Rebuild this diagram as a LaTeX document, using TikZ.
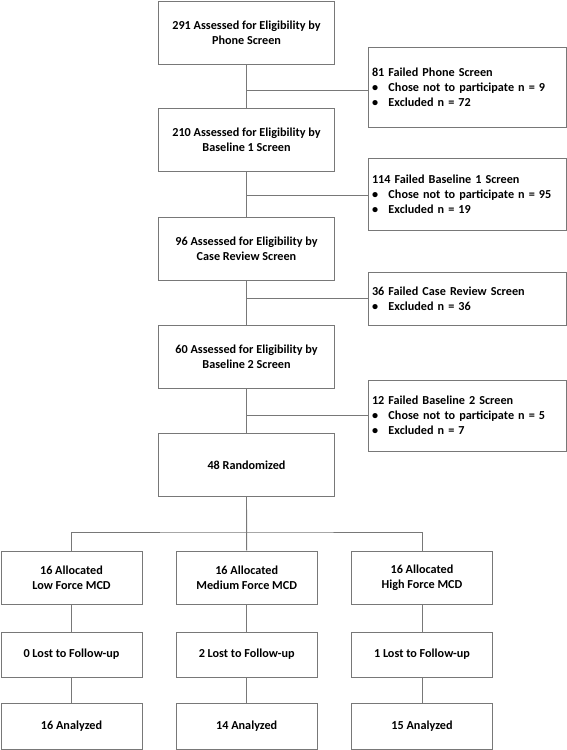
\documentclass[tikz,border=0pt]{standalone}
\usepackage{fontspec}
\setmainfont{Carlito}
\usepackage{tikz}
\usetikzlibrary{calc,positioning}
\definecolor{linegray}{RGB}{120,120,120}
\tikzset{
  mainbox/.style={draw=linegray, line width=0.9pt, fill=white, minimum width=176pt, minimum height=63pt, align=center, inner sep=2pt},
  sidebox/.style={draw=linegray, line width=0.9pt, fill=white, text width=190pt, inner xsep=4pt, align=left},
  armbox/.style={draw=linegray, line width=0.9pt, fill=white, minimum width=141pt, align=center, inner sep=2pt},
  conn/.style={draw=linegray, line width=0.9pt}
}
\newcommand{\bul}{\makebox[16.5pt][l]{\textbullet}}
\begin{document}
\begin{tikzpicture}[x=1pt,y=-1pt,font=\fontsize{12.2}{15}\selectfont\bfseries]
\useasboundingbox (0,0) rectangle (567,750);
% screening column
\node[mainbox] (b1) at (246.5,32.5) {291 Assessed for Eligibility by\\Phone Screen};
\node[mainbox] (b2) at (246.5,140) {210 Assessed for Eligibility by\\Baseline 1 Screen};
\node[mainbox] (b3) at (246.5,248.5) {96 Assessed for Eligibility by\\Case Review Screen};
\node[mainbox] (b4) at (246.5,356.5) {60 Assessed for Eligibility by\\Baseline 2 Screen};
\node[mainbox] (b5) at (246.5,465) {48 Randomized};
% exclusions
\node[sidebox, minimum height=80pt] (s1) at (467,87) {81 Failed Phone Screen\\
  \bul Chose not to participate n = 9\\
  \bul Excluded n = 72};
\node[sidebox, minimum height=72pt] (s2) at (467,194) {114 Failed Baseline 1 Screen\\
  \bul Chose not to participate n = 95\\
  \bul Excluded n = 19};
\node[sidebox, minimum height=53pt] (s3) at (467,298.5) {36 Failed Case Review Screen\\
  \bul Excluded n = 36};
\node[sidebox, minimum height=71pt] (s4) at (467,415.5) {12 Failed Baseline 2 Screen\\
  \bul Chose not to participate n = 5\\
  \bul Excluded n = 7};
% arms
\node[armbox, minimum height=53pt] (a1) at (71.5,577.5) {16 Allocated\\Low Force MCD};
\node[armbox, minimum height=53pt] (a2) at (246.7,577.5) {16 Allocated\\Medium Force MCD};
\node[armbox, minimum height=53pt] (a3) at (422,577.5) {16 Allocated\\High Force MCD};
\node[armbox, minimum height=45pt] (l1) at (71.5,654.5) {0 Lost to Follow-up};
\node[armbox, minimum height=45pt] (l2) at (246.7,654.5) {2 Lost to Follow-up};
\node[armbox, minimum height=45pt] (l3) at (422,654.5) {1 Lost to Follow-up};
\node[armbox, minimum height=46pt] (n1) at (71.5,726) {16 Analyzed};
\node[armbox, minimum height=46pt] (n2) at (246.7,726) {14 Analyzed};
\node[armbox, minimum height=46pt] (n3) at (422,726) {15 Analyzed};
% connectors
\coordinate (j1) at (246.5,90);
\coordinate (j2) at (246.5,195);
\coordinate (j3) at (246.5,298);
\coordinate (j4) at (246.5,415);
\coordinate (split) at (246.5,532);
\draw[conn] (b1) -- (b2);
\draw[conn] (b2) -- (b3);
\draw[conn] (b3) -- (b4);
\draw[conn] (b4) -- (b5);
\foreach \i in {1,...,4}
  \draw[conn] (j\i) -- (j\i -| s\i.west);
\draw[conn] (b5.south) -- (a2.north);
\draw[conn] (a1.north) |- (split) -| (a3.north);
\foreach \i in {1,2,3}{
  \draw[conn] (a\i) -- (l\i);
  \draw[conn] (l\i) -- (n\i);
}
\end{tikzpicture}
\end{document}
